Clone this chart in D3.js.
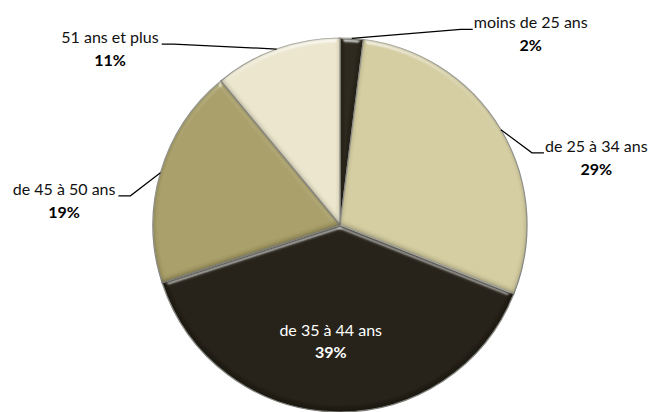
<!DOCTYPE html>
<html>
<head>
<meta charset="utf-8">
<script src="https://cdn.jsdelivr.net/npm/d3@7"></script>
<style>
  body { margin: 0; background: #fff; }
  text { font-family: Lato, "Noto Sans", sans-serif; }
</style>
</head>
<body>
<div class="pie"></div>
<script>
// data
var categories = ["moins de 25 ans", "de 25 à 34 ans", "de 35 à 44 ans", "de 45 à 50 ans", "51 ans et plus"];
var values = [2, 29, 39, 19, 11];
var colors = ["#29251a", "#d4cda1", "#221e15", "#a89e68", "#ece6cd"];

// label placement (offset of the text anchor from the leader line start), null = label inside the slice
var labelOffsets = [[121, -10], [43, 22], null, [-42, 22], [-115, -6]];

var width = 654, height = 412,
    cx = 340, cy = 225, radius = 187;

var svg = d3.select(".pie")
  .append("svg")
  .attr("width", width)
  .attr("height", height);

// soft bevel: light rim on top, darker rim at the bottom
var defs = svg.append("defs");
var f = defs.append("filter").attr("id", "bevel")
  .attr("color-interpolation-filters", "sRGB")
  .attr("x", "-10%").attr("y", "-10%").attr("width", "120%").attr("height", "120%");
f.append("feGaussianBlur").attr("in", "SourceAlpha").attr("stdDeviation", 2.5).attr("result", "blur");
f.append("feSpecularLighting").attr("in", "blur").attr("surfaceScale", 4)
  .attr("specularConstant", 0.7).attr("specularExponent", 20)
  .attr("lighting-color", "#ffffff").attr("result", "spec")
  .append("feDistantLight").attr("azimuth", 270).attr("elevation", 25);
f.append("feComposite").attr("in", "spec").attr("in2", "SourceAlpha").attr("operator", "in").attr("result", "specIn");
// inner dark edge
f.append("feOffset").attr("in", "blur").attr("dx", 0).attr("dy", -2).attr("result", "ob");
f.append("feComposite").attr("in", "SourceAlpha").attr("in2", "ob").attr("operator", "out").attr("result", "rim");
f.append("feFlood").attr("flood-color", "#000").attr("flood-opacity", 0.35).attr("result", "fl");
f.append("feComposite").attr("in", "fl").attr("in2", "rim").attr("operator", "in").attr("result", "dark");
var m = f.append("feMerge");
m.append("feMergeNode").attr("in", "SourceGraphic");
m.append("feMergeNode").attr("in", "dark");
m.append("feMergeNode").attr("in", "specIn");

var data = categories.map(function(c, i) { return {cat: c, value: values[i], color: colors[i]}; });

var pie = d3.pie().sort(null).value(function(d) { return d.value; });
var arc = d3.arc().innerRadius(0).outerRadius(radius);
var arcs = pie(data);

var g = svg.append("g").attr("transform", "translate(" + cx + "," + cy + ")");

g.append("g").selectAll("path")
  .data(arcs)
  .enter()
  .append("path")
  .attr("d", arc)
  .attr("fill", function(d) { return d.data.color; })
  .attr("stroke", "#a3a39c")
  .attr("stroke-width", 1.2)
  .attr("stroke-linejoin", "round")
  .attr("filter", "url(#bevel)");

// labels
arcs.forEach(function(d, i) {
  var mid = (d.startAngle + d.endAngle) / 2;
  var off = labelOffsets[i];
  if (off === null) {
    var c = d3.arc().innerRadius(0).outerRadius(radius * 1.12).centroid(d);
    var t = g.append("text").attr("text-anchor", "middle").attr("fill", "#ffffff")
      .attr("font-size", "16px");
    t.append("tspan").attr("x", c[0] - 6).attr("y", c[1] + 6).text(d.data.cat);
    t.append("tspan").attr("x", c[0] - 6).attr("dy", 22).attr("font-weight", "bold").text(d.value + "%");
    return;
  }
  var sx = Math.sin(mid) * radius, sy = -Math.cos(mid) * radius;
  var tx = sx + off[0], ty = sy + off[1];
  var right = off[0] > 0;
  var elbow = right ? tx - 12 : tx + 12;
  g.append("polyline")
    .attr("points", [[sx, sy], [elbow, ty + 1], [tx, ty + 1]].join(" "))
    .attr("fill", "none")
    .attr("stroke", "#000")
    .attr("stroke-width", 1.2);
  var lx = right ? tx + 1 : tx - 3;
  var name = g.append("text")
    .attr("x", lx).attr("y", ty)
    .attr("text-anchor", right ? "start" : "end")
    .attr("font-size", "16px")
    .attr("fill", "#111")
    .text(d.data.cat);
  var w = name.node().getComputedTextLength();
  var center = right ? lx + w / 2 : lx - w / 2;
  g.append("text")
    .attr("x", center).attr("y", ty + 23)
    .attr("text-anchor", "middle")
    .attr("font-size", "16px")
    .attr("font-weight", "bold")
    .attr("fill", "#000")
    .text(d.value + "%");
});
</script>
</body>
</html>
